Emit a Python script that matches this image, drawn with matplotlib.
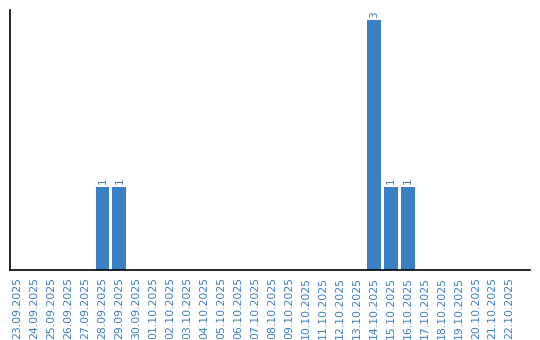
import matplotlib
matplotlib.use("Agg")
import matplotlib.pyplot as plt

dates = ["23.09.2025", "24.09.2025", "25.09.2025", "26.09.2025", "27.09.2025",
         "28.09.2025", "29.09.2025", "30.09.2025", "01.10.2025", "02.10.2025",
         "03.10.2025", "04.10.2025", "05.10.2025", "06.10.2025", "07.10.2025",
         "08.10.2025", "09.10.2025", "10.10.2025", "11.10.2025", "12.10.2025",
         "13.10.2025", "14.10.2025", "15.10.2025", "16.10.2025", "17.10.2025",
         "18.10.2025", "19.10.2025", "20.10.2025", "21.10.2025", "22.10.2025"]
counts = [0, 0, 0, 0, 0, 1, 1, 0, 0, 0,
          0, 0, 0, 0, 0, 0, 0, 0, 0, 0,
          0, 3, 1, 1, 0, 0, 0, 0, 0, 0]

BLUE = "#3b7fc4"

fig = plt.figure(figsize=(5.4, 3.4), dpi=100)
ax = fig.add_axes([10 / 540, 70 / 340, 520 / 540, 260 / 340])

x = range(len(dates))
ax.bar(x, counts, width=0.82, color=BLUE)

for xi, c in zip(x, counts):
    if c > 0:
        ax.text(xi, c + 0.03, str(c), rotation=90, ha="center", va="bottom",
                color=BLUE, fontsize=7.5)

# the axis line runs a bit past the last day
ax.set_xlim(-0.45, len(dates) + 0.2)
ax.set_ylim(0, 3.12)
ax.set_xticks(list(x))
ax.set_xticklabels(dates, rotation=90, color=BLUE, fontsize=7.8)
ax.tick_params(axis="x", length=0, pad=5)
ax.set_yticks([])

for side in ("top", "right"):
    ax.spines[side].set_visible(False)
ax.spines["left"].set_linewidth(1.2)
ax.spines["bottom"].set_linewidth(1.2)

fig.savefig("out.png", dpi=100)
